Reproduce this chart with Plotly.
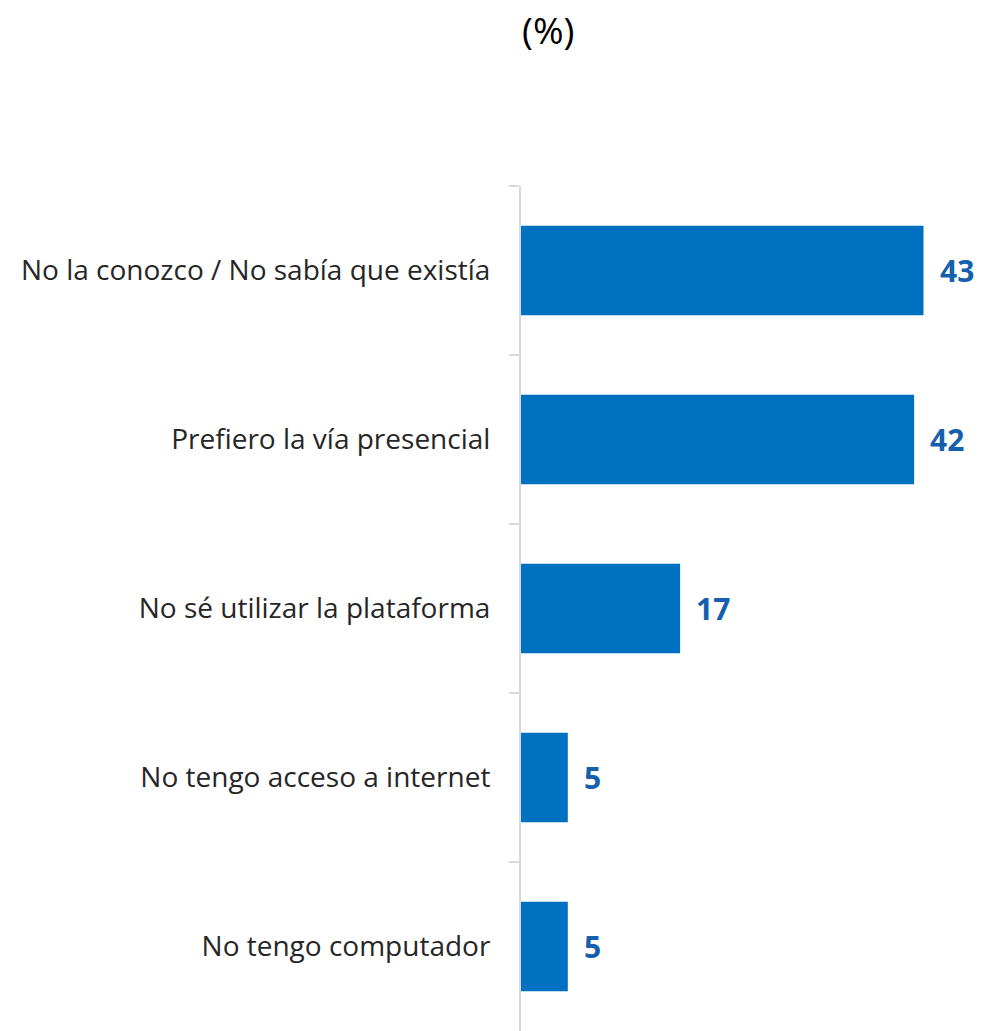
import plotly.graph_objects as go

# Reasons for not using the online platform (%)
categories = [
    "No la conozco / No sabía que existía",
    "Prefiero la vía presencial",
    "No sé utilizar la plataforma",
    "No tengo acceso a internet",
    "No tengo computador",
]
values = [43, 42, 17, 5, 5]

BAR_COLOR = "#0070C0"
LABEL_COLOR = "#1560AD"
TEXT_COLOR = "#262626"
AXIS_COLOR = "#D9D9D9"
FONT = "Open Sans"

TOP_MARGIN = 186
PLOT_HEIGHT = 1031 - TOP_MARGIN

fig = go.Figure(
    go.Bar(
        x=values,
        y=categories,
        orientation="h",
        marker=dict(color=BAR_COLOR, line=dict(width=0)),
        width=0.53,
        hoverinfo="skip",
    )
)

# value labels to the right of each bar
for cat, val in zip(categories, values):
    fig.add_annotation(
        x=val, y=cat, xref="x", yref="y",
        text=f"<b>{val}</b>", showarrow=False,
        xanchor="left", yanchor="middle", xshift=14,
        font=dict(family=FONT, size=30, color=LABEL_COLOR),
    )

# unit heading above the plot
fig.add_annotation(
    text="(%)", showarrow=False,
    xref="paper", x=(548 - 521) / (1004 - 521), xanchor="center",
    yref="paper", y=1 + (TOP_MARGIN - 29) / PLOT_HEIGHT, yanchor="middle",
    font=dict(family=FONT, size=37, color="#000000"),
)

fig.update_layout(
    width=1004,
    height=1031,
    margin=dict(l=521, r=0, t=TOP_MARGIN, b=0),
    paper_bgcolor="white",
    plot_bgcolor="white",
    showlegend=False,
    font=dict(family=FONT, color=TEXT_COLOR),
    xaxis=dict(
        range=[0, 51.6],
        visible=False,
        showgrid=False,
        zeroline=False,
        fixedrange=True,
    ),
    yaxis=dict(
        type="category",
        categoryorder="array",
        categoryarray=categories,
        autorange="reversed",
        showline=True,
        linecolor=AXIS_COLOR,
        linewidth=2,
        ticks="outside",
        tickson="boundaries",
        ticklen=10,
        tickwidth=2,
        tickcolor=AXIS_COLOR,
        ticklabelstandoff=23,
        tickfont=dict(family=FONT, size=28, color=TEXT_COLOR),
        showgrid=False,
        zeroline=False,
        fixedrange=True,
    ),
)

fig.write_html("out.html")
